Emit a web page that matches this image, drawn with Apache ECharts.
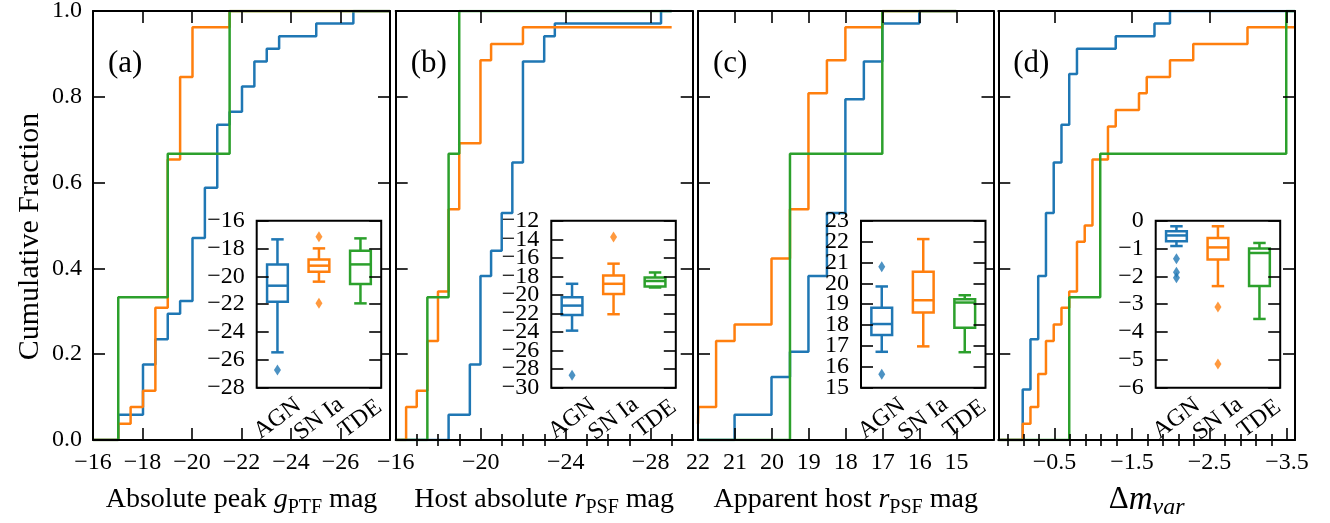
<!DOCTYPE html>
<html><head><meta charset="utf-8">
<script src="https://cdn.jsdelivr.net/npm/echarts@6/dist/echarts.min.js"></script>
<style>html,body{margin:0;padding:0;background:#fff}#c{width:1330px;height:523px}</style>
</head><body><div id="c"></div>
<script>
const FONT = '"Liberation Serif", "DejaVu Serif", serif';
const BLUE = '#1f77b4', ORANGE = '#ff7f0e', GREEN = '#2ca02c';
const COLORS = [BLUE, ORANGE, GREEN];
const categories = ['AGN', 'SN Ia', 'TDE'];

// ---- Panel (a): absolute peak g_PTF mag, cumulative fraction (rise position, level)
const aAgnX = [-17.02,-18.02,-18.52,-19.02,-19.52,-20.02,-20.52,-21.02,-21.52,-22.02,-22.52,-23.02,-23.52,-25.02,-26.52];
const aAgnY = [0.059,0.176,0.235,0.294,0.324,0.471,0.588,0.735,0.765,0.824,0.882,0.912,0.941,0.971,1.0];
const aSnX = [-17.02,-17.52,-18.02,-18.52,-19.02,-19.52,-20.02,-21.52];
const aSnY = [0.038,0.077,0.115,0.308,0.654,0.846,0.962,1.0];
const aTdeX = [-17.02,-19.02,-21.52];
const aTdeY = [0.333,0.667,1.0];
// ---- Panel (b): host absolute r_PSF mag
const bAgnX = [-18.49,-19.49,-19.99,-20.49,-20.99,-21.49,-21.99,-22.99,-23.49,-28.49];
const bAgnY = [0.059,0.176,0.382,0.441,0.529,0.647,0.882,0.941,0.971,1.0];
const bSnX = [-16.49,-16.99,-17.49,-17.99,-18.49,-18.99,-19.99,-20.49,-21.99];
const bSnY = [0.077,0.115,0.231,0.346,0.538,0.692,0.885,0.923,0.962];
const bTdeX = [-17.49,-18.49,-18.99];
const bTdeY = [0.333,0.667,1.0];
// ---- Panel (c): apparent host r_PSF mag
const cAgnX = [21.01,20.01,19.51,19.01,18.51,18.01,17.51,17.01,16.01];
const cAgnY = [0.059,0.147,0.206,0.382,0.529,0.794,0.882,0.971,1.0];
const cSnX = [21.99,21.51,21.01,20.01,19.51,19.01,18.51,18.01,17.01];
const cSnY = [0.077,0.231,0.269,0.423,0.538,0.808,0.885,0.962,1.0];
const cTdeX = [19.51,17.01];
const cTdeY = [0.667,1.0];
// ---- Panel (d): delta m_var
const dAgnX = [-0.09,-0.19,-0.29,-0.39,-0.49,-0.59,-0.69,-0.79,-1.29,-1.79,-1.99];
const dAgnY = [0.118,0.235,0.382,0.529,0.647,0.735,0.853,0.912,0.941,0.971,1.0];
const dSnX = [-0.09,-0.19,-0.29,-0.39,-0.49,-0.59,-0.69,-0.79,-0.89,-0.99,-1.19,-1.29,-1.59,-1.69,-1.99,-2.29,-2.99];
const dSnY = [0.038,0.077,0.154,0.231,0.269,0.308,0.346,0.462,0.5,0.654,0.731,0.769,0.808,0.846,0.885,0.923,0.962];
const dTdeX = [-0.69,-1.09,-3.49];
const dTdeY = [0.333,0.667,1.0];

// ---- Inset box plots: [lower whisker, Q1, median, Q3, upper whisker] per category
const aBox = [[-25.46,-21.82,-20.67,-19.14,-17.34],[-20.38,-19.66,-19.23,-18.78,-17.99],[-21.94,-20.55,-19.14,-18.16,-17.27]];
const aOut = [[-26.73],[-17.15,-21.94],[]];
const bBox = [[-23.85,-22.16,-21.15,-20.26,-18.8],[-22.08,-19.9,-18.8,-17.9,-16.63],[-19.2,-19.08,-18.5,-18.12,-17.58]];
const bOut = [[-28.67],[-13.76],[]];
const cBox = [[16.72,17.53,18.05,18.83,19.85],[16.98,18.6,19.19,20.56,22.12],[16.7,17.87,19.08,19.24,19.43]];
const cOut = [[20.79,15.64],[],[]];
const dBox = [[-0.91,-0.74,-0.53,-0.38,-0.2],[-2.35,-1.39,-0.96,-0.62,-0.2],[-3.53,-2.35,-1.16,-1.0,-0.8]];
const dOut = [[-1.37,-1.85,-2.05],[-3.1,-5.15],[]];

// ---- Tick values
const aTicks = [-16,-18,-20,-22,-24,-26];
const aMinor = [];
const bTicks = [-16,-20,-24,-28];
const bMinor = [-17,-18,-19,-21,-22,-23,-25,-26,-27,-29];
const cTicks = [22,21,20,19,18,17,16,15];
const cMinor = [];
const dTicks = [-0.5,-1.5,-2.5,-3.5];
const dMinor = [0.1,-0.1,-0.3,-0.7,-0.9,-1.1,-1.3,-1.7,-1.9,-2.1,-2.3,-2.7,-2.9,-3.1,-3.3];
// inset y tick labels
const aInsetTicks = [-28,-26,-24,-22,-20,-18,-16];
const bInsetTicks = [-30,-28,-26,-24,-22,-20,-18,-16,-14,-12];
const cInsetTicks = [15,16,17,18,19,20,21,22,23];
const dInsetTicks = [-6,-5,-4,-3,-2,-1,0];

const panelLabels = ['(a)', '(b)', '(c)', '(d)'];
const xNames = [
  '{t|Absolute peak }{i|g}{s|PTF}{t| mag}',
  '{t|Host absolute }{i|r}{s|PSF}{t| mag}',
  '{t|Apparent host }{i|r}{s|PSF}{t| mag}',
  '{D|Δ}{M|m}{si|var}'
];

const panels = [
  {left: 93, width: 297, min: -28.0, max: -16, ticks: aTicks, minor: aMinor, start: -16, end: -28.0,
   lines: [[aAgnX, aAgnY, 0], [aSnX, aSnY, 0], [aTdeX, aTdeY, 0]],
   inset: {left: 256.7, min: -28, max: -16, ticks: aInsetTicks, box: aBox, out: aOut}},
  {left: 395.7, width: 297, min: -29.98, max: -16, ticks: bTicks, minor: bMinor, start: -16, end: -28.99,
   lines: [[bAgnX, bAgnY, 0], [bSnX, bSnY, 0], [bTdeX, bTdeY, 0]],
   inset: {left: 551.3, min: -30, max: -12, ticks: bInsetTicks, box: bBox, out: bOut}},
  {left: 698, width: 295.5, min: 14.0, max: 22, ticks: cTicks, minor: cMinor, start: 22, end: 15.01,
   lines: [[cAgnX, cAgnY, 0], [cSnX, cSnY, 0.038], [cTdeX, cTdeY, 0]],
   inset: {left: 861, min: 15, max: 23, ticks: cInsetTicks, box: cBox, out: cOut}},
  {left: 998.3, width: 296.7, min: -3.603, max: 0.225, ticks: dTicks, minor: dMinor, start: 0.225, end: -3.603,
   lines: [[dAgnX, dAgnY, 0], [dSnX, dSnY, 0], [dTdeX, dTdeY, 0]],
   inset: {left: 1155.7, min: -6, max: 0, ticks: dInsetTicks, box: dBox, out: dOut}}
];

const TOP = 11, HEIGHT = 429, TICKFONT = 24, LW = 2.5;
const minus = v => String(v).replace('-', '\u2212');
const richName = {
  t: {fontSize: 28, fontFamily: FONT, color: '#000', lineHeight: 32},
  i: {fontSize: 28, fontFamily: FONT, fontStyle: 'italic', color: '#000', lineHeight: 32},
  s: {fontSize: 20, fontFamily: FONT, color: '#000', verticalAlign: 'bottom', height: 16},
  D: {fontSize: 31, fontFamily: FONT, color: '#000', lineHeight: 32},
  M: {fontSize: 33, fontFamily: FONT, fontStyle: 'italic', color: '#000', lineHeight: 32},
  si: {fontSize: 24, fontFamily: FONT, fontStyle: 'italic', color: '#000', verticalAlign: 'bottom', height: 16}
};

function stepData(xs, ys, x0, x1, y0) {
  const d = [[x0, y0]];
  for (let i = 0; i < xs.length; i++) d.push([xs[i], ys[i]]);
  d.push([x1, ys[ys.length - 1]]);
  return d;
}

function renderBox(params, api) {
  const idx = api.value(0);
  const lo = api.coord([idx, api.value(1)]);
  const q1 = api.coord([idx, api.value(2)]);
  const md = api.coord([idx, api.value(3)]);
  const q3 = api.coord([idx, api.value(4)]);
  const hi = api.coord([idx, api.value(5)]);
  const band = api.size([1, 0])[0];
  const bw = band * 0.5, cw = band * 0.3;
  const x = lo[0];
  const color = api.visual('color');
  const st = {stroke: color, lineWidth: LW, fill: null};
  return {type: 'group', children: [
    {type: 'rect', shape: {x: x - bw / 2, y: q3[1], width: bw, height: q1[1] - q3[1]}, style: {stroke: color, lineWidth: LW, fill: '#fff'}},
    {type: 'line', shape: {x1: x - bw / 2, y1: md[1], x2: x + bw / 2, y2: md[1]}, style: st},
    {type: 'line', shape: {x1: x, y1: q1[1], x2: x, y2: lo[1]}, style: st},
    {type: 'line', shape: {x1: x, y1: q3[1], x2: x, y2: hi[1]}, style: st},
    {type: 'line', shape: {x1: x - cw / 2, y1: lo[1], x2: x + cw / 2, y2: lo[1]}, style: st},
    {type: 'line', shape: {x1: x - cw / 2, y1: hi[1], x2: x + cw / 2, y2: hi[1]}, style: st}
  ]};
}

const option = {animation: false, backgroundColor: '#fff', textStyle: {fontFamily: FONT},
  grid: [], xAxis: [], yAxis: [], series: [], title: []};

const tickLine = {color: '#000', width: 1.6};
const frame = {show: true, onZero: false, lineStyle: {color: '#000', width: 2}};

panels.forEach((p, k) => {
  const g = option.grid.length;
  option.grid.push({left: p.left, top: TOP, width: p.width, height: HEIGHT, outerBoundsMode: 'none', containLabel: false});
  const base = {gridIndex: g, type: 'value', min: p.min, max: p.max, inverse: true, splitLine: {show: false}, z: 3};
  const xMain = option.xAxis.length;
  option.xAxis.push(Object.assign({}, base, {
    position: 'bottom', axisLine: frame,
    axisTick: {show: true, inside: true, length: 12, customValues: p.ticks, lineStyle: tickLine},
    axisLabel: {show: true, customValues: p.ticks, formatter: minus, margin: 11, fontSize: TICKFONT, color: '#000', fontFamily: FONT},
    name: xNames[k], nameLocation: 'middle', nameGap: 44,
    nameTextStyle: {rich: richName, fontFamily: FONT, fontSize: 28, color: '#000'}
  }));
  option.xAxis.push(Object.assign({}, base, {
    position: 'top', axisLine: frame,
    axisTick: {show: true, inside: true, length: 12, customValues: p.ticks, lineStyle: tickLine},
    axisLabel: {show: false}
  }));
  if (p.minor.length) {
    ['bottom', 'top'].forEach(pos => option.xAxis.push(Object.assign({}, base, {
      position: pos, axisLine: {show: false},
      axisTick: {show: true, inside: true, length: 6, customValues: p.minor, lineStyle: tickLine},
      axisLabel: {show: false}
    })));
  }
  const yMain = option.yAxis.length;
  const ybase = {gridIndex: g, type: 'value', min: 0, max: 1, interval: 0.2, splitLine: {show: false}, z: 3,
    axisLine: frame, axisTick: {show: true, inside: true, length: 12, lineStyle: tickLine}};
  option.yAxis.push(Object.assign({}, ybase, {
    position: 'left',
    axisLabel: {show: k === 0, showMinLabel: true, showMaxLabel: true, formatter: v => v.toFixed(1), margin: 11, fontSize: TICKFONT, color: '#000', fontFamily: FONT},
    name: k === 0 ? 'Cumulative Fraction' : '', nameLocation: 'middle', nameGap: 47,
    nameTextStyle: {fontSize: 30, fontFamily: FONT, color: '#000', lineHeight: 32, padding: [0, 22, 0, 0]}
  }));
  option.yAxis.push(Object.assign({}, ybase, {position: 'right', axisLabel: {show: false}}));

  p.lines.forEach((ln, j) => {
    option.series.push({type: 'line', name: categories[j], xAxisIndex: xMain, yAxisIndex: yMain,
      step: 'end', symbol: 'none', z: 2, silent: true,
      lineStyle: {color: COLORS[j], width: LW}, itemStyle: {color: COLORS[j]},
      data: stepData(ln[0], ln[1], p.start, p.end, ln[2])});
  });

  option.title.push({text: panelLabels[k], left: p.left + 15, top: 48, padding: 0,
    textStyle: {fontSize: 31, fontWeight: 'normal', fontFamily: FONT, color: '#000', lineHeight: 31}});

  // inset
  const q = p.inset;
  const gi = option.grid.length;
  option.grid.push({left: q.left, top: 220.7, width: 124.5, height: 167, z: 6, show: true,
    backgroundColor: '#fff', borderColor: '#000', borderWidth: 2, outerBoundsMode: 'none', containLabel: false});
  const xi = option.xAxis.length;
  option.xAxis.push({gridIndex: gi, type: 'category', data: categories, position: 'bottom', z: 8,
    axisLine: {show: false}, axisTick: {show: false}, splitLine: {show: false},
    axisLabel: {interval: 0, rotate: 37, align: 'center', verticalAlign: 'middle', margin: 31,
      fontSize: TICKFONT, color: '#000', fontFamily: FONT}});
  const yi = option.yAxis.length;
  const even = q.ticks.filter((v, i) => i % 2 === 0);
  const odd = q.ticks.filter((v, i) => i % 2 === 1);
  const yib = {gridIndex: gi, type: 'value', min: q.min, max: q.max, z: 8,
    splitLine: {show: false}, axisLine: {show: false}};
  const lab = {formatter: minus, margin: 12, fontSize: TICKFONT, color: '#000', fontFamily: FONT};
  option.yAxis.push(Object.assign({}, yib, {position: 'left',
    axisTick: {show: true, inside: true, length: 12, customValues: q.ticks, lineStyle: tickLine},
    axisLabel: Object.assign({customValues: even}, lab)}));
  option.yAxis.push(Object.assign({}, yib, {position: 'left',
    axisTick: {show: false},
    axisLabel: Object.assign({customValues: odd}, lab)}));
  option.yAxis.push(Object.assign({}, yib, {position: 'right',
    axisTick: {show: true, inside: true, length: 12, customValues: q.ticks, lineStyle: tickLine},
    axisLabel: {show: false}}));

  option.series.push({type: 'custom', xAxisIndex: xi, yAxisIndex: yi, z: 7, silent: true,
    renderItem: renderBox, encode: {x: 0, y: [1, 2, 3, 4, 5]},
    data: q.box.map((b, i) => ({value: [i].concat(b), itemStyle: {color: COLORS[i]}}))});
  const outs = [];
  q.out.forEach((arr, i) => arr.forEach(v => outs.push({value: [i, v], itemStyle: {color: COLORS[i]}})));
  option.series.push({type: 'scatter', xAxisIndex: xi, yAxisIndex: yi, z: 7, silent: true,
    symbol: 'diamond', symbolSize: [7, 11], data: outs});
});

const chart = echarts.init(document.getElementById('c'), null, {renderer: 'canvas'});
chart.setOption(option);
</script></body></html>
